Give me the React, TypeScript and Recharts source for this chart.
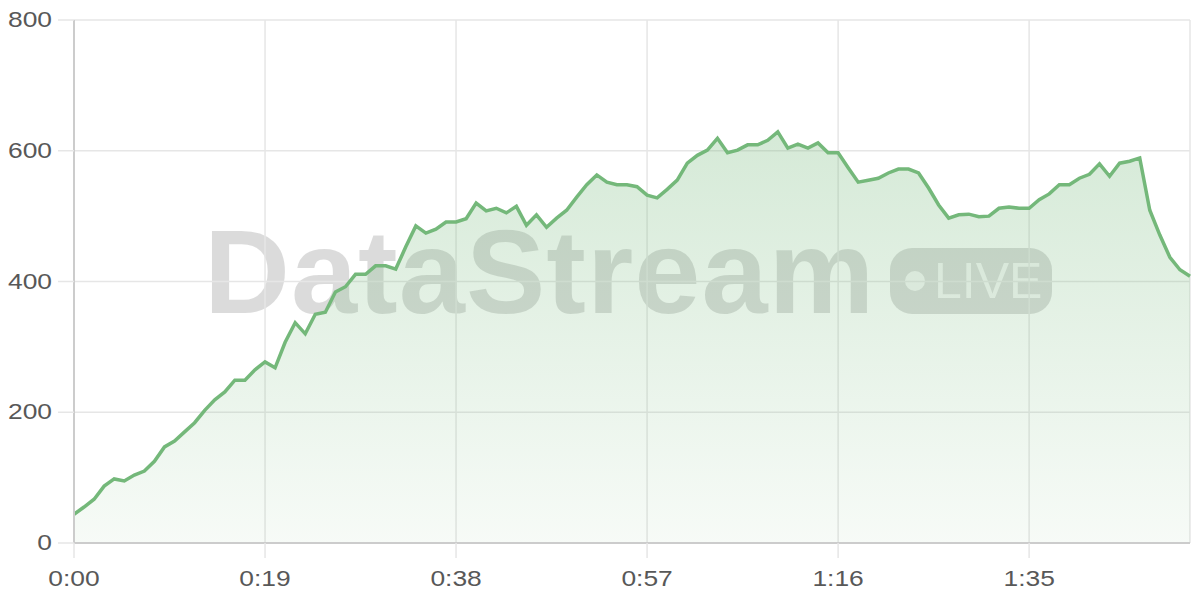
import React from "react";
import {
  AreaChart,
  Area,
  XAxis,
  YAxis,
  CartesianGrid,
} from "recharts";

// one reading per second, 0:00 .. 1:51
const viewers = [
  44, 55, 67, 87, 98, 95, 104, 110, 125, 147,
  156, 170, 184, 203, 219, 231, 249, 249, 265, 277,
  268, 307, 337, 320, 350, 353, 384, 392, 411, 411,
  424, 424, 419, 453, 485, 474, 480, 491, 491, 496,
  520, 508, 512, 505, 515, 486, 502, 483, 497, 509,
  529, 548, 563, 552, 548, 548, 545, 532, 528, 541,
  555, 581, 593, 601, 619, 597, 601, 609, 609, 616,
  629, 604, 610, 604, 612, 597, 597, 574, 552, 555,
  558, 566, 572, 572, 566, 543, 517, 497, 502, 503,
  499, 500, 512, 514, 512, 512, 525, 534, 548, 548,
  558, 564, 580, 561, 581, 584, 589, 509, 471, 437,
  418, 408,
];

const xTicks = [0, 19, 38, 57, 76, 95];
const yTicks = [0, 200, 400, 600, 800];

const data = viewers.map((v, i) => ({ t: i, value: v }));

const fmtTime = (s: number) => `${Math.floor(s / 60)}:${String(s % 60).padStart(2, "0")}`;

const LINE = "#74b87a";
const FONT = "'Liberation Sans', Arial, sans-serif";

// labels in the reference are a bit wider than plain Arial, so stretch them
const WideTick = (props: any) => {
  const { x, y, payload, textAnchor, axis } = props;
  const label = axis === "x" ? fmtTime(payload.value) : String(payload.value);
  return (
    <g transform={`translate(${x},${y}) scale(1.2,1)`}>
      <text
        x={0}
        y={0}
        dy={axis === "x" ? 22 : 7}
        textAnchor={textAnchor}
        fill="#585858"
        fontSize={22}
        fontFamily={FONT}
      >
        {label}
      </text>
    </g>
  );
};

const Watermark: React.FC = () => (
  <div
    style={{
      position: "absolute",
      left: 0,
      top: 0,
      width: 1200,
      height: 600,
      zIndex: 0,
      pointerEvents: "none",
    }}
  >
    <div
      style={{
        position: "absolute",
        left: 204,
        top: 212,
        fontFamily: FONT,
        fontWeight: 700,
        fontSize: 119,
        lineHeight: "119px",
        letterSpacing: 1,
        color: "rgba(0,0,0,0.14)",
        whiteSpace: "nowrap",
      }}
    >
      DataStream
    </div>
    <div
      style={{
        position: "absolute",
        left: 890,
        top: 248,
        width: 162,
        height: 66,
        borderRadius: 22,
        background: "rgba(0,0,0,0.14)",
      }}
    >
      <div
        style={{
          position: "absolute",
          left: 15,
          top: 23,
          width: 20,
          height: 20,
          borderRadius: 10,
          background: "rgba(255,255,255,0.75)",
        }}
      />
      <div
        style={{
          position: "absolute",
          left: 44,
          top: 6,
          fontFamily: FONT,
          fontSize: 50,
          lineHeight: "54px",
          color: "rgba(255,255,255,0.75)",
        }}
      >
        LIVE
      </div>
    </div>
  </div>
);

export default function App() {
  return (
    <div style={{ position: "absolute", left: 0, top: 0, width: 1200, height: 600, background: "#ffffff" }}>
      <Watermark />
      <div style={{ position: "absolute", left: 0, top: 0, zIndex: 1 }}>
        <AreaChart
          width={1200}
          height={600}
          data={data}
          margin={{ top: 20, right: 10, left: 0, bottom: 17 }}
        >
          <defs>
            <linearGradient id="fillGreen" x1="0" y1="0" x2="0" y2="1">
              <stop offset="0%" stopColor={LINE} stopOpacity={0.3} />
              <stop offset="100%" stopColor={LINE} stopOpacity={0.06} />
            </linearGradient>
          </defs>
          <CartesianGrid stroke="#e6e6e6" strokeWidth={1.5} />
          <XAxis
            dataKey="t"
            type="number"
            domain={[0, 111]}
            ticks={xTicks}
            height={40}
            tickSize={15}
            tickMargin={6}
            tick={(p: any) => <WideTick {...p} axis="x" />}
            tickLine={{ stroke: "#e6e6e6", strokeWidth: 1.5 }}
            axisLine={{ stroke: "#cccccc", strokeWidth: 2 }}
          />
          <YAxis
            domain={[0, 800]}
            ticks={yTicks}
            width={74}
            tickSize={16}
            tickMargin={6}
            tick={(p: any) => <WideTick {...p} axis="y" />}
            tickLine={{ stroke: "#e6e6e6", strokeWidth: 1.5 }}
            axisLine={{ stroke: "#cccccc", strokeWidth: 2 }}
          />
          <Area
            type="linear"
            dataKey="value"
            stroke={LINE}
            strokeWidth={3.5}
            fill="url(#fillGreen)"
            fillOpacity={1}
            dot={false}
            activeDot={false}
            isAnimationActive={false}
          />
        </AreaChart>
      </div>
    </div>
  );
}
